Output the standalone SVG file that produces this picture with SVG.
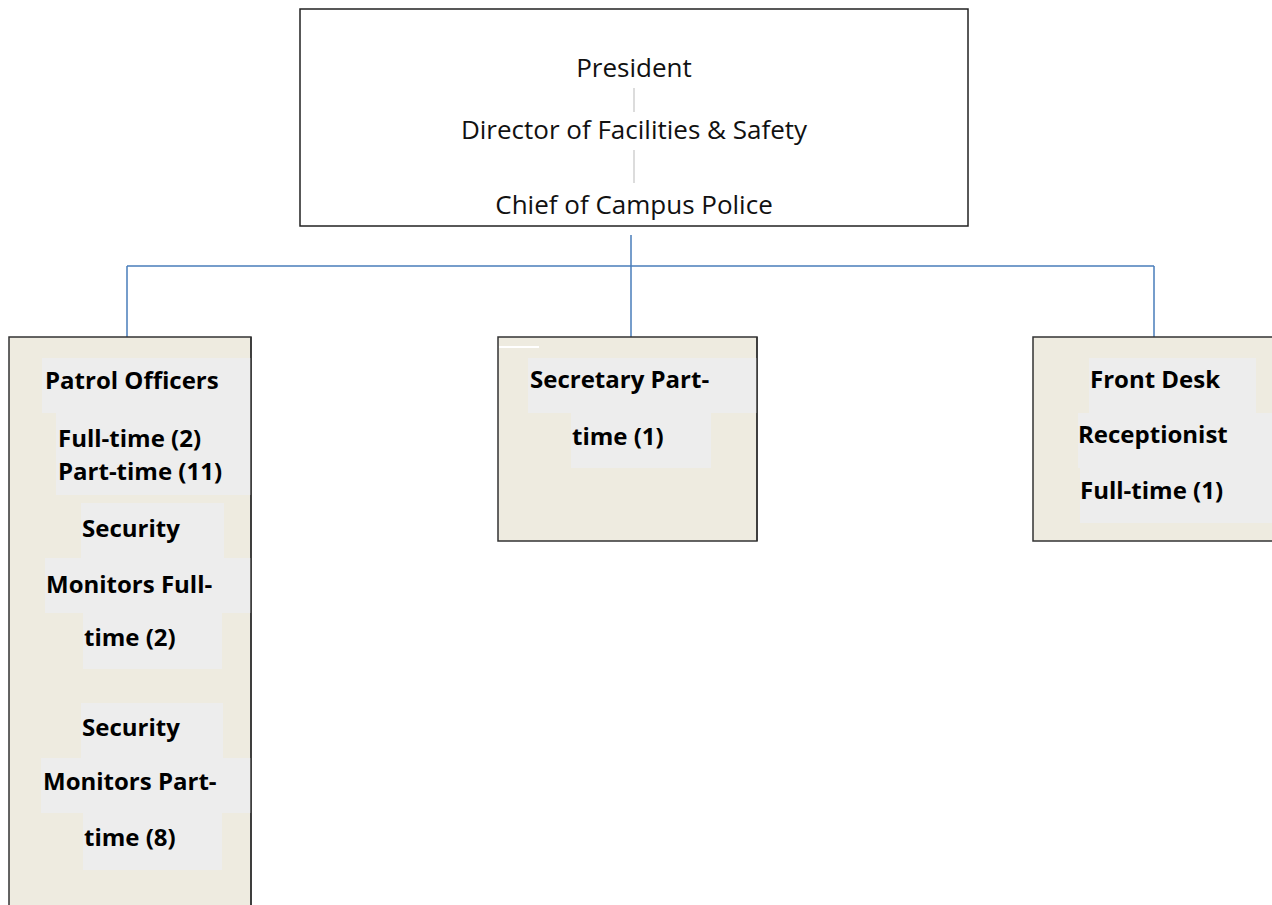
<svg xmlns="http://www.w3.org/2000/svg" width="1272" height="905" viewBox="0 0 1272 905">
<style>
.box{fill:#eeebe0;stroke:#333;stroke-width:1.5}
.top{fill:#fff;stroke:#222;stroke-width:1.5}
.hl{fill:#ededed}
.edge{fill:none;stroke:#333;stroke-width:1.5}
.reg{font-family:"Open Sans","Liberation Sans",sans-serif;font-size:26px;fill:#111;text-anchor:middle}
.b{font-family:"Open Sans","Liberation Sans",sans-serif;font-size:24px;font-weight:bold;fill:#000}
.sep{stroke:#d0d0d0;stroke-width:1.5}
.conn{fill:none;stroke:#4a7ebb;stroke-width:1.5}
</style>
<rect width="1272" height="905" fill="#fff"/>
<g id="connectors">
<path class="conn" d="M631 235V337M127 266H1154M127 266V337M1154 266V337"/>
</g>
<g id="top">
<rect class="top" x="300" y="9" width="668" height="217"/>
<text class="reg" x="634" y="77">President</text>
<line class="sep" x1="634" y1="88" x2="634" y2="112"/>
<text class="reg" x="634" y="139">Director of Facilities &amp; Safety</text>
<line class="sep" x1="634" y1="150" x2="634" y2="183"/>
<text class="reg" x="634" y="214">Chief of Campus Police</text>
</g>
<g id="patrol">
<rect class="box" x="9" y="337" width="242" height="575"/>
<rect class="hl" x="42" y="358" width="209" height="55"/>
<rect class="hl" x="56" y="413" width="195" height="82"/>
<rect class="hl" x="81" y="503" width="143" height="55"/>
<rect class="hl" x="45" y="558" width="206" height="55"/>
<rect class="hl" x="83" y="613" width="139" height="56"/>
<rect class="hl" x="81" y="703" width="142" height="55"/>
<rect class="hl" x="41" y="758" width="210" height="55"/>
<rect class="hl" x="83" y="813" width="139" height="57"/>
<line class="edge" x1="251" y1="337" x2="251" y2="905"/>
<text class="b" x="45" y="389">Patrol Officers</text>
<text class="b" x="58" y="447">Full-time (2)</text>
<text class="b" x="58" y="480">Part-time (11)</text>
<text class="b" x="82" y="537">Security</text>
<text class="b" x="46" y="593">Monitors Full-</text>
<text class="b" x="84" y="646">time (2)</text>
<text class="b" x="82" y="736">Security</text>
<text class="b" x="43" y="790">Monitors Part-</text>
<text class="b" x="84" y="846">time (8)</text>
</g>
<g id="secretary">
<rect class="box" x="498" y="337" width="259" height="204"/>
<rect x="499" y="346" width="40" height="2" fill="#fff"/>
<rect class="hl" x="528" y="358" width="229" height="55"/>
<rect class="hl" x="571" y="413" width="140" height="55"/>
<line class="edge" x1="757" y1="337" x2="757" y2="541"/>
<text class="b" x="530" y="388">Secretary Part-</text>
<text class="b" x="572" y="445">time (1)</text>
</g>
<g id="frontdesk">
<rect class="box" x="1033" y="337" width="245" height="204"/>
<rect class="hl" x="1089" y="358" width="167" height="55"/>
<rect class="hl" x="1078" y="413" width="194" height="55"/>
<rect class="hl" x="1080" y="468" width="192" height="55"/>
<text class="b" x="1090" y="388">Front Desk</text>
<text class="b" x="1078" y="443">Receptionist</text>
<text class="b" x="1080" y="499">Full-time (1)</text>
</g>
</svg>
